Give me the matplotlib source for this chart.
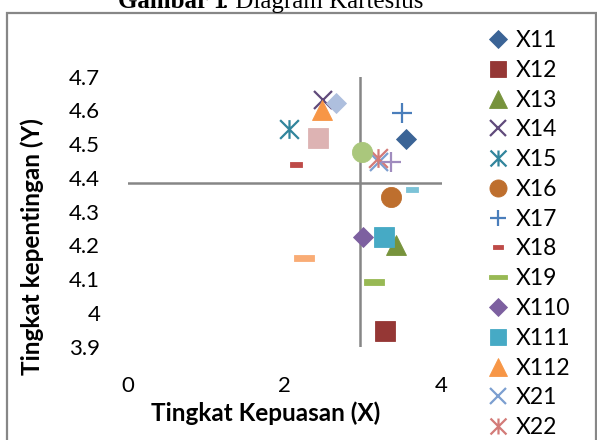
import numpy as np
import matplotlib.pyplot as plt
from matplotlib.path import Path
from matplotlib.patches import Rectangle

plt.rcParams['font.family'] = ['Lato', 'DejaVu Sans']

# series: (x = kepuasan, y = kepentingan)
names = ["X11", "X12", "X13", "X14", "X15", "X16", "X17", "X18", "X19", "X110",
         "X111", "X112", "X21", "X22", "X23", "X24", "X25", "X26", "X27", "X28"]
kepuasan = [3.54, 3.28, 3.42, 2.49, 2.05, 3.35, 3.50, 2.14, 3.14, 3.00,
            3.27, 2.48, 3.20, 3.19, 2.99, 3.35, 3.62, 2.25, 2.65, 2.42]
kepentingan = [4.514, 3.947, 4.201, 4.631, 4.545, 4.343, 4.593, 4.440, 4.092, 4.224,
               4.225, 4.600, 4.448, 4.458, 4.478, 4.446, 4.366, 4.164, 4.623, 4.517]
colors = ["#3B6496", "#953735", "#77933C", "#604A7B", "#31859C", "#BE6F2E",
          "#4A7EBB", "#BE4B48", "#98B954", "#7D60A0", "#46AAC5", "#F79646",
          "#7C9FD0", "#D37B78", "#AAC77C", "#A08CBE", "#7CC3D7", "#F9AC75",
          "#AEBFDE", "#DDB3B3"]
mean_x = 2.963
mean_y = 4.386

# excel style markers
star = Path([(0, -1), (0, 1), (-1, -1), (1, 1), (-1, 1), (1, -1)],
            [Path.MOVETO, Path.LINETO, Path.MOVETO, Path.LINETO, Path.MOVETO, Path.LINETO])
short_dash = Path([(-1, -0.45), (1, -0.45), (1, 0.45), (-1, 0.45), (-1, -0.45)],
                  [Path.MOVETO, Path.LINETO, Path.LINETO, Path.LINETO, Path.CLOSEPOLY])
long_dash = Path([(-1, -0.25), (1, -0.25), (1, 0.25), (-1, 0.25), (-1, -0.25)],
                 [Path.MOVETO, Path.LINETO, Path.LINETO, Path.LINETO, Path.CLOSEPOLY])
# (marker, size, filled)
marker_cycle = [("D", 10.2, True), ("s", 14.0, True), ("^", 14.5, True), ("x", 13.5, False),
                (star, 13.5, False), ("o", 14.5, True), ("+", 14.0, False),
                (short_dash, 8.0, True), (long_dash, 14.5, True)]

fig = plt.figure(figsize=(5.97, 4.40), dpi=100)
W, H = 597.0, 440.0
ax = fig.add_axes([128 / W, 1 - 346.7 / H, (441.7 - 128) / W, (346.7 - 76.7) / H])

# chart border (cropped by the picture edges)
fig.patches.append(Rectangle((7 / W, -0.2), 589 / W, 1.2 - 13 / H, transform=fig.transFigure,
                             fill=False, edgecolor="#878787", lw=1.6))

for i in range(len(names)):
    m, s, filled = marker_cycle[i % len(marker_cycle)]
    c = colors[i]
    if filled:
        ax.plot(kepuasan[i], kepentingan[i], linestyle="none", marker=m, markersize=s,
                color=c, markeredgecolor=c, markeredgewidth=0.6, label=names[i], clip_on=False)
    else:
        ax.plot(kepuasan[i], kepentingan[i], linestyle="none", marker=m, markersize=s,
                color=c, markeredgewidth=1.6, label=names[i], clip_on=False)

ax.axvline(mean_x, color="#868686", lw=1.8, zorder=0)
ax.axhline(mean_y, color="#868686", lw=1.8, zorder=0)

ax.set_xlim(0, 4)
ax.set_ylim(3.9, 4.7)
for sp in ax.spines.values():
    sp.set_visible(False)
ax.set_xticks([0, 2, 4])
ax.set_xticklabels(["0", "2", "4"])
yt = np.round(np.arange(3.9, 4.71, 0.1), 1)
ax.set_yticks(yt)
ax.set_yticklabels(["4" if v == 4 else "%.1f" % v for v in yt])
ax.tick_params(length=0, labelsize=16, pad=20)
ax.tick_params(axis="x", pad=21)

fig.text(32 / W, 1 - 247 / H, "Tingkat kepentingan (Y)", rotation=90, ha="center", va="center",
         fontsize=17.5, fontweight="bold")
fig.text(265.5 / W, 1 - 413 / H, "Tingkat Kepuasan (X)", ha="center", va="center",
         fontsize=17.5, fontweight="bold")

# title, mostly cut off by top edge
fig.text(118 / W, 1 - 8 / H, "Gambar 1", ha="left", va="baseline", fontsize=18,
         fontweight="bold", family="Liberation Serif")
fig.text(222 / W, 1 - 8 / H, ": Diagram Kartesius", ha="left", va="baseline", fontsize=18,
         family="Liberation Serif")

fig.legend(loc="upper left", bbox_to_anchor=(488 / W, 1 - 30 / H), frameon=False,
           fontsize=16.5, labelspacing=0.383, handlelength=0.9, handletextpad=0.3,
           markerscale=0.85, borderpad=0, borderaxespad=0)

fig.savefig("out.png", dpi=100)
